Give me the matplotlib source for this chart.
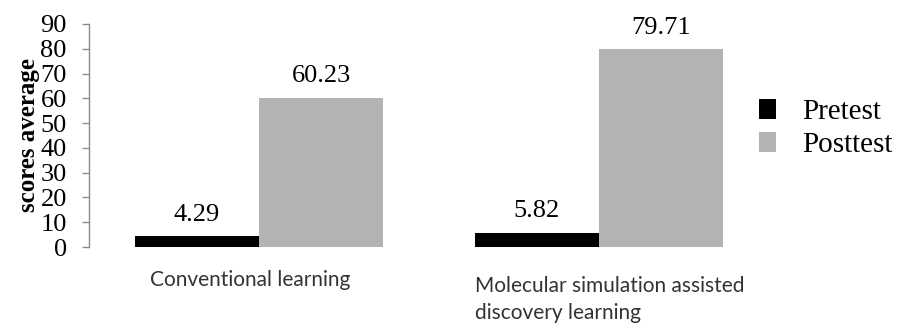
import matplotlib
matplotlib.use("Agg")
import matplotlib.pyplot as plt
from matplotlib.patches import Patch
import matplotlib.transforms as mtransforms
import numpy as np

categories = ["Conventional learning", "Molecular simulation assisted\ndiscovery learning"]
series_names = ["Pretest", "Posttest"]
pretest = [4.29, 5.82]
posttest = [60.23, 79.71]
yticks = [0, 10, 20, 30, 40, 50, 60, 70, 80, 90]

BLACK = "#000000"
GRAY = "#b3b3b3"
AXGRAY = "#8c8c8c"
serif = ["Liberation Serif", "DejaVu Serif"]
sans = ["Lato", "DejaVu Sans"]

fig = plt.figure(figsize=(9.04, 3.29), dpi=100)
ax = fig.add_axes([89/904, 82/329, 680/904, 223/329])

x = np.arange(len(categories))
w = 0.365
b1 = ax.bar(x - w/2, pretest, width=w, color=BLACK, label=series_names[0])
b2 = ax.bar(x + w/2, posttest, width=w, color=GRAY, label=series_names[1])

for bars in (b1, b2):
    for rect in bars:
        h = rect.get_height()
        ax.annotate(f"{h:.2f}", xy=(rect.get_x() + rect.get_width()/2, h),
                    xytext=(0, 7.5), textcoords="offset points",
                    ha="center", va="bottom", fontsize=19, family=serif)

ax.set_xlim(-0.5, 1.5)
ax.set_ylim(0, 90)
ax.set_yticks(yticks)
ax.set_yticklabels([str(t) for t in yticks], family=serif, fontsize=19)
ax.tick_params(axis="y", length=5, width=1, color=AXGRAY, pad=11)
ax.set_xticks([])
for s in ("top", "right", "bottom"):
    ax.spines[s].set_visible(False)
ax.spines["left"].set_color(AXGRAY)
ax.spines["left"].set_linewidth(1)

ax.set_ylabel("scores average", family=serif, fontweight="bold", fontsize=18, labelpad=0)

trans = mtransforms.blended_transform_factory(ax.transData, ax.transAxes)
ax.text(x[0] - 0.025, -0.102, categories[0], transform=trans, ha="center", va="top",
        fontsize=15, family=sans, color="#333333")
ax.text(x[1] - w, -0.13, categories[1], transform=trans, ha="left", va="top",
        fontsize=15, family=sans, color="#333333", linespacing=1.45)

handles = [Patch(facecolor=BLACK, edgecolor="none"), Patch(facecolor=GRAY, edgecolor="none")]
fig.legend(handles, series_names, loc="center left", bbox_to_anchor=(759/904, 1 - 128.5/329),
           frameon=False, prop={"family": serif, "size": 21}, borderpad=0, borderaxespad=0,
           handlelength=0.58, handleheight=0.69, handletextpad=0.9, labelspacing=0.25)

fig.savefig("out.png", dpi=100)
